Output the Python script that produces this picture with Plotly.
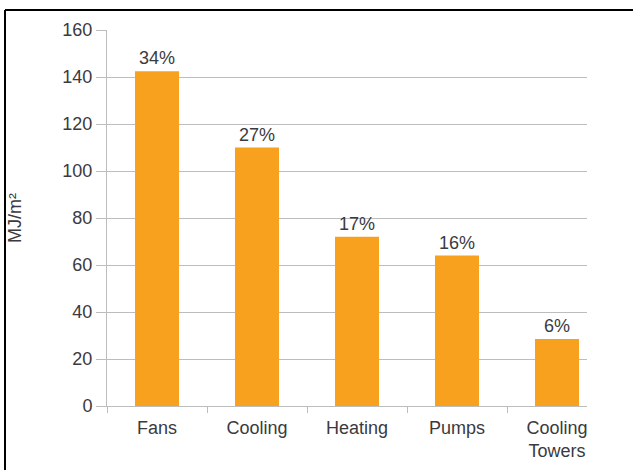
import plotly.graph_objects as go

categories = ["Fans", "Cooling", "Heating", "Pumps", "Cooling<br>Towers"]
values = [142.4, 110, 72, 64, 28.5]
shares = ["34%", "27%", "17%", "16%", "6%"]
y_ticks = [0, 20, 40, 60, 80, 100, 120, 140, 160]

W, H = 633, 470
L, R, T, B = 107, 46, 30, 64
pw, ph = W - L - R, H - T - B

FONT = "Liberation Sans, Arial, sans-serif"
TXT = "#3a3a40"
GRID = "#bdbdbd"

fig = go.Figure(go.Bar(
    x=categories, y=values, text=shares, textposition="outside",
    textfont=dict(family=FONT, size=18, color=TXT),
    marker=dict(color="#F8A11F", line=dict(width=0)),
    width=0.44, cliponaxis=False,
))

fig.update_layout(
    width=W, height=H,
    margin=dict(l=L, r=R, t=T, b=B, autoexpand=False),
    paper_bgcolor="white", plot_bgcolor="white",
    showlegend=False,
    font=dict(family=FONT, color=TXT),
    xaxis=dict(
        type="category", range=[-0.5, 4.3],
        tickson="boundaries", ticks="outside", ticklen=6, tickcolor=GRID, tickwidth=1,
        showline=True, linecolor=GRID, linewidth=1, ticklabelstandoff=5,
        showgrid=False, tickfont=dict(family=FONT, size=18, color=TXT),
    ),
    yaxis=dict(
        range=[0, 160], tickvals=y_ticks,
        ticks="outside", ticklen=10, tickcolor=GRID, tickwidth=1,
        showline=True, linecolor=GRID, linewidth=1,
        showgrid=True, gridcolor=GRID, gridwidth=1, zeroline=False,
        tickfont=dict(family=FONT, size=18, color=TXT),
        title=dict(text="MJ/m²", font=dict(family=FONT, size=18, color=TXT), standoff=36),
    ),
    bargap=0.56,
)

# outer frame (black border around the figure)
x0 = (5 - L) / pw
y1 = (H - B - 10) / ph
fig.add_shape(type="line", xref="paper", yref="paper", x0=x0, x1=x0, y0=-0.5, y1=y1,
              line=dict(color="black", width=2))
fig.add_shape(type="line", xref="paper", yref="paper", x0=x0, x1=1.5, y0=y1, y1=y1,
              line=dict(color="black", width=2))

fig.write_html("out.html")
